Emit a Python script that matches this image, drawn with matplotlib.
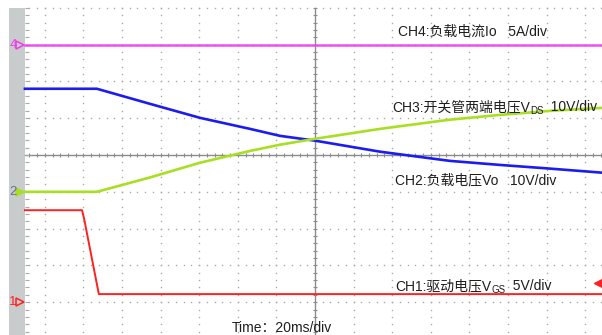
import numpy as np
import matplotlib.pyplot as plt
from matplotlib.transforms import blended_transform_factory

plt.rcParams['font.family'] = ['Liberation Sans', 'Noto Sans CJK SC', 'DejaVu Sans']

# time in ms (20 ms/div), each trace in its own unit
t_ch1 = [-150.3, -120.7, -119.6, -112.0, 148.7]
vgs = [12.5, 12.5, 11.3, 1.1, 1.1]

t_ch2 = [-150.3, -113.0, -85.5, -59.6, -33.7, -18.1, 0.0, 33.7, 69.9, 95.9, 121.8, 148.7]
vo = [0.0, 0.0, 3.9, 7.9, 11.1, 12.8, 14.4, 17.1, 19.6, 20.9, 22.0, 22.8]

t_ch3 = [-150.3, -113.0, -85.5, -59.6, -33.7, -18.1, 0.0, 33.7, 69.9, 95.9, 121.8, 148.7]
vds = [28.0, 28.0, 23.9, 20.1, 17.1, 15.2, 13.9, 10.9, 8.4, 7.3, 6.3, 5.2]

t_ch4 = [-150.3, 148.7]
io = [0.0, 0.0]

# units per div and ground position (div) of each channel
ch1_scale, ch1_pos = 5, -4
ch2_scale, ch2_pos = 10, -1
ch3_scale, ch3_pos = 10, -1
ch4_scale, ch4_pos = 5, 3
trig_level = -3.48

W, H = 602, 335
xdiv, ydiv = 38.6, 36.8   # pixels per division
cx, cy = 315, 155         # screen centre in pixels

fig = plt.figure(figsize=(W / 100, H / 100), dpi=100)
ax = fig.add_axes([0, 0, 1, 1])
ax.axis('off')
ax.set_xlim(-cx / xdiv * 20, (W - cx) / xdiv * 20)
ax.set_ylim(-(H - cy) / ydiv, cy / ydiv)

t_left, t_right = (25 - cx) / xdiv * 20, (W - cx) / xdiv * 20
top, bottom = 4.0, -(H - cy) / ydiv

# grey strip with channel markers
ax.fill_between([(9 - cx) / xdiv * 20, t_left], bottom, top, color='#c9cccd', lw=0)

# grid
grid_c = '#a9a9a9'
dots_y = np.arange(-24, 21) * 0.2
dots_t = np.arange(-37, 38) * 4.0
for k in range(-7, 8):
    if k != 0:
        ax.plot(np.full_like(dots_y, 20 * k), dots_y, ls='none', marker='s', ms=1.0, mew=0, color=grid_c)
for k in range(-4, 5):
    if k != 0:
        ax.plot(dots_t, np.full_like(dots_t, k), ls='none', marker='s', ms=1.0, mew=0, color=grid_c)
ax.plot([t_left, t_right], [0, 0], color='#8c8c8c', lw=1)
ax.plot([0, 0], [bottom, top], color='#8c8c8c', lw=1)
ax.plot(dots_t, np.zeros_like(dots_t), ls='none', marker='|', ms=3.5, mew=0.8, color='#8c8c8c')
ax.plot(np.zeros_like(dots_y), dots_y, ls='none', marker='_', ms=3.5, mew=0.8, color='#8c8c8c')
ax.plot(np.full_like(dots_y, t_left + 1.2), dots_y, ls='none', marker='_', ms=2.5, mew=0.8, color=grid_c)

# traces
ax.plot(t_ch4, ch4_pos + np.array(io) / ch4_scale, color='#ee3cee', lw=1.8, alpha=0.9)
ax.plot(t_ch3, ch3_pos + np.array(vds) / ch3_scale, color='#1c1cf0', lw=1.9)
ax.plot(t_ch2, ch2_pos + np.array(vo) / ch2_scale, color='#a9df22', lw=1.9)
ax.plot(t_ch1, ch1_pos + np.array(vgs) / ch1_scale, color='#ff2020', lw=1.4)

trans = blended_transform_factory(ax.transAxes, ax.transData)
for pos, num, col, fill, numcol in [(ch4_pos, '4', '#ee3cee', 'none', '#ee3cee'),
                                     (ch2_pos, '2', '#a9df22', '#a9df22', '#6a6aa0'),
                                     (ch1_pos, '1', '#ff2020', 'none', '#ff2020')]:
    ax.plot(19.5 / W, pos, marker='>', ms=6, mfc=fill, mec=col, mew=1.1, transform=trans, clip_on=False)
    ax.text(13 / W, pos, num, color=numcol, fontsize=9.5, ha='center', va='center', transform=trans)
ax.plot(599 / W, trig_level, marker='<', ms=7, color='#ff2020', transform=trans, clip_on=False)


def label(x, y, parts):
    prev = None
    for s, sub in parts:
        yy = 1 - (y + (3 if sub else 0)) / H
        size = 7 if sub else 10
        if prev is None:
            prev = fig.text(x / W, yy, s, fontsize=size, va='baseline', color='#1e1e1e')
        else:
            prev = ax.annotate(s, xy=(1, yy), xycoords=(prev, 'figure fraction'),
                               fontsize=size, va='baseline', ha='left', color='#1e1e1e')


label(398, 36, [('CH4:负载电流Io   5A/div', False)])
label(392, 111, [('CH3:开关管两端电压V', False), ('DS', True), ('  10V/div', False)])
label(395, 184, [('CH2:负载电压Vo   10V/div', False)])
label(395, 290, [('CH1:驱动电压V', False), ('GS', True), ('  5V/div', False)])
label(232, 332, [('Time：20ms/div', False)])

fig.savefig('out.png', dpi=100)
